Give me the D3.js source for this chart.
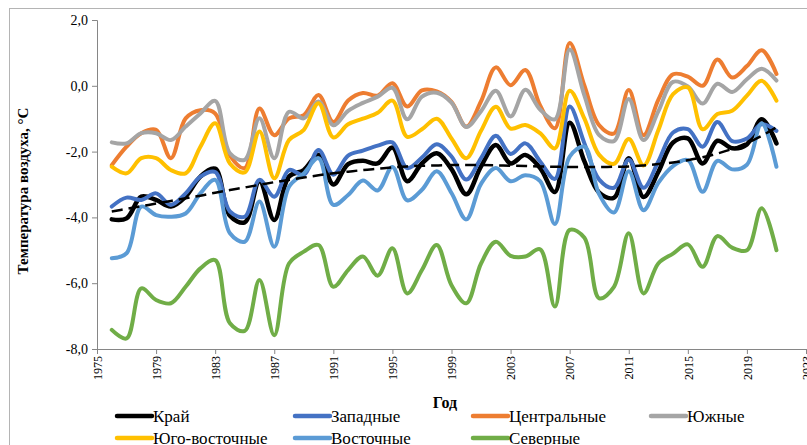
<!DOCTYPE html>
<html><head><meta charset="utf-8">
<script src="https://cdn.jsdelivr.net/npm/d3@7"></script>
<style>body{margin:0;background:#fff}svg{display:block}svg text{font-family:"Liberation Serif","Times New Roman",serif !important;fill:#000}</style>
</head><body><svg id="c" width="807" height="445" font-family="Liberation Serif, Times New Roman, serif"></svg>
<script>
const years = [1976,1977,1978,1979,1980,1981,1982,1983,1984,1985,1986,1987,1988,1989,1990,1991,1992,1993,1994,1995,1996,1997,1998,1999,2000,2001,2002,2003,2004,2005,2006,2007,2008,2009,2010,2011,2012,2013,2014,2015,2016,2017,2018,2019,2020,2021];

const krai = [-4.06,-4.03,-3.37,-3.47,-3.67,-3.37,-2.76,-2.52,-3.95,-4.15,
-2.9,-4.08,-2.76,-2.56,-2.1,-3.0,-2.38,-2.28,-2.36,-1.88,
-2.9,-2.36,-2.05,-2.53,-3.3,-2.45,-1.8,-2.36,-2.1,-2.5,
-3.23,-1.12,-2.3,-3.25,-3.4,-2.2,-3.38,-2.62,-1.72,-1.6,
-2.36,-1.67,-1.9,-1.78,-1.02,-1.75];
const zapad = [-3.67,-3.4,-3.47,-3.27,-3.62,-3.27,-2.76,-2.62,-3.82,-3.98,
-2.86,-3.37,-2.56,-2.71,-1.95,-2.7,-2.12,-1.97,-1.82,-1.72,
-2.5,-2.18,-1.78,-2.15,-2.85,-2.2,-1.52,-2.07,-1.75,-2.3,
-2.83,-0.63,-1.75,-2.85,-3.1,-2.25,-3.1,-2.3,-1.42,-1.32,
-1.85,-1.1,-1.68,-1.6,-1.17,-1.37];
const centr = [-2.41,-1.85,-1.44,-1.34,-2.2,-0.99,-0.74,-0.84,-2.12,-2.5,
-0.69,-1.5,-0.99,-0.89,-0.28,-1.1,-0.45,-0.22,-0.3,0.08,
-0.63,-0.14,-0.17,-0.49,-1.24,-0.47,0.56,0.02,0.48,-0.6,
-1.29,1.3,0.0,-1.2,-1.45,-0.13,-1.5,-0.43,0.35,0.28,
0.0,0.8,0.25,0.6,1.08,0.36];
const yuzh = [-1.72,-1.75,-1.44,-1.44,-1.65,-1.24,-0.84,-0.46,-2.05,-2.25,
-0.99,-2.2,-0.79,-0.99,-0.48,-1.2,-0.76,-0.52,-0.33,-0.06,
-1.02,-0.33,-0.21,-0.51,-1.25,-0.77,-0.15,-0.93,-0.12,-0.72,
-1.02,1.1,-0.3,-1.5,-1.68,-0.4,-1.65,-0.78,0.12,-0.02,
-0.54,0.06,-0.19,0.2,0.52,0.16];
const yugoVost = [-2.46,-2.66,-2.2,-2.2,-2.56,-2.66,-1.85,-1.14,-2.36,-2.63,
-1.39,-2.81,-1.65,-1.34,-0.53,-1.57,-1.17,-1.0,-0.82,-0.45,
-1.55,-1.32,-1.0,-1.6,-2.2,-1.37,-0.64,-1.3,-1.19,-1.44,
-1.9,-0.15,-1.0,-2.1,-2.37,-1.62,-2.42,-1.35,-0.25,-0.05,
-1.32,-0.86,-0.76,-0.3,0.15,-0.45];
const vost = [-5.24,-5.09,-3.67,-3.93,-3.98,-3.88,-3.27,-2.86,-4.48,-4.74,
-3.52,-4.89,-3.07,-2.66,-2.2,-3.62,-3.32,-2.88,-3.18,-2.47,
-3.48,-3.16,-2.6,-3.26,-4.06,-2.98,-2.5,-2.9,-2.72,-2.9,
-4.2,-2.15,-1.85,-3.3,-3.85,-2.6,-3.78,-2.95,-2.44,-2.26,
-3.22,-2.28,-2.54,-2.4,-1.14,-2.46];
const sever = [-7.42,-7.68,-6.16,-6.51,-6.61,-6.11,-5.55,-5.3,-7.22,-7.45,
-5.9,-7.58,-5.4,-5.04,-4.84,-6.11,-5.6,-5.19,-5.77,-4.94,
-6.31,-5.6,-4.84,-6.06,-6.61,-5.4,-4.74,-5.17,-5.19,-4.97,
-6.71,-4.38,-4.62,-6.46,-6.11,-4.48,-6.31,-5.4,-5.1,-4.82,
-5.5,-4.57,-4.92,-5.0,-3.72,-5.0];
const trend = [-3.82,-3.74,-3.66,-3.58,-3.5,-3.42,-3.34,-3.25,-3.17,-3.09,
-3.01,-2.93,-2.86,-2.79,-2.72,-2.66,-2.61,-2.56,-2.52,-2.48,
-2.45,-2.43,-2.42,-2.41,-2.41,-2.41,-2.42,-2.43,-2.44,-2.45,
-2.46,-2.47,-2.47,-2.47,-2.46,-2.45,-2.42,-2.38,-2.33,-2.26,
-2.17,-2.06,-1.92,-1.74,-1.52,-1.26];

const seriesNames = ["Край","Западные","Центральные","Южные","Юго-восточные","Восточные","Северные"];
const seriesColors = ["#000000","#4472C4","#ED7D31","#A5A5A5","#FFC000","#5B9BD5","#70AD47"];
const seriesValues = [krai, zapad, centr, yuzh, yugoVost, vost, sever];
const yTicks = [-8,-6,-4,-2,0,2];
const xTicks = [1975,1979,1983,1987,1991,1995,1999,2003,2007,2011,2015,2019,2023];

const FONT = "'Liberation Serif','Times New Roman',serif";
const svg = d3.select("#c");
const x = d3.scaleLinear().domain([1975, 2023]).range([97, 806]);
const y = d3.scaleLinear().domain([-8, 2]).range([349, 20]);

svg.append("rect").attr("x",9.5).attr("y",8.5).attr("width",820).attr("height",460)
  .attr("fill","none").attr("stroke","#b4b4b4").attr("stroke-width",1);

const fmt = d => (d<0?"-":"") + Math.abs(d).toFixed(1).replace(".", ",");
const gy = svg.append("g").attr("transform","translate(97,0)")
  .call(d3.axisLeft(y).tickValues(yTicks).tickFormat(fmt).tickSize(5).tickPadding(4));
gy.attr("font-family",null).attr("font-size",null);
gy.selectAll("text").style("font-size","14px").style("font-family",FONT);
const gx = svg.append("g").attr("transform","translate(0,349)")
  .call(d3.axisBottom(x).tickValues(xTicks).tickFormat(d3.format("d")).tickSize(5));
gx.attr("font-family",null).attr("font-size",null);
gx.selectAll("text").style("font-size","12px").style("font-family",FONT)
  .attr("transform","rotate(-90)").attr("text-anchor","end").attr("x",-7).attr("y",0).attr("dy","0.35em");
svg.selectAll(".domain, .tick line").attr("stroke","#868686");

const line = d3.line().x((d,i)=>x(years[i])).y(d=>y(d)).curve(d3.curveCatmullRom.alpha(0.5));
seriesValues.forEach((vals,k)=>{
  svg.append("path").datum(vals).attr("d",line).attr("fill","none")
    .attr("stroke",seriesColors[k]).attr("stroke-width",k===0?4.5:4)
    .attr("stroke-linejoin","round").attr("stroke-linecap","round");
});
svg.append("path").datum(trend).attr("d",line).attr("fill","none")
  .attr("stroke","#000").attr("stroke-width",2.5).attr("stroke-dasharray","11,6");

svg.append("text").attr("transform","translate(28,191) rotate(-90)").attr("text-anchor","middle")
  .style("font-family",FONT).style("font-size","15px").style("font-weight","bold").text("Температура воздуха, °С");
svg.append("text").attr("x",445).attr("y",408).attr("text-anchor","middle")
  .style("font-family",FONT).style("font-size","16px").style("font-weight","bold").text("Год");

const colX = [117,295,473,651], rowY = [416,438];
seriesNames.forEach((name,i)=>{
  const cx = colX[i%4], cy = rowY[Math.floor(i/4)];
  svg.append("line").attr("x1",cx).attr("x2",cx+35).attr("y1",cy).attr("y2",cy)
    .attr("stroke",seriesColors[i]).attr("stroke-width",4.5).attr("stroke-linecap","round");
  svg.append("text").attr("x",cx+36).attr("y",cy+6).style("font-family",FONT).style("font-size","17px").text(name);
});
</script></body></html>
